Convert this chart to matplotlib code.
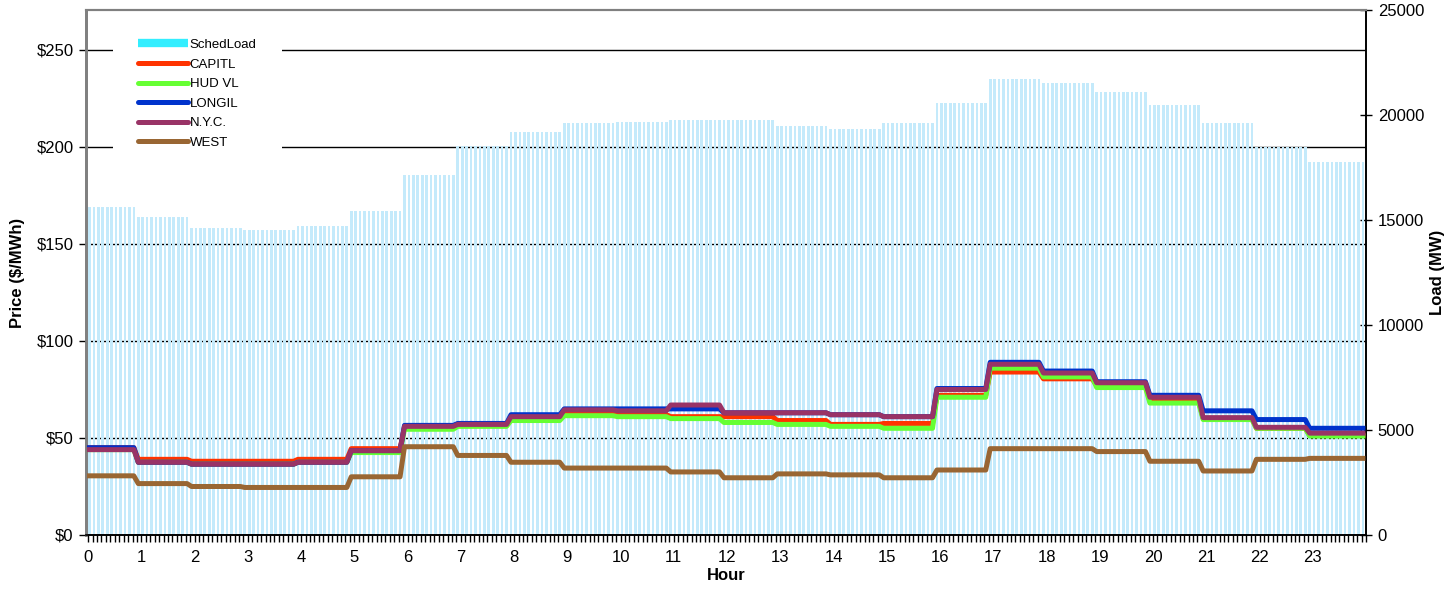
import numpy as np
import matplotlib
matplotlib.use("Agg")
import matplotlib.pyplot as plt
from matplotlib.lines import Line2D
from matplotlib.ticker import MultipleLocator, FuncFormatter

plt.rcParams['font.family'] = ['Liberation Sans', 'DejaVu Sans']

# hourly values (0..23); each hour is shown as 12 five-minute intervals
hours = list(range(24))
sched_load = [15600, 15150, 14620, 14520, 14710, 15430, 17140, 18520, 19190, 19620,
              19670, 19760, 19760, 19480, 19330, 19620, 20570, 21710, 21520, 21100,
              20480, 19620, 18480, 17760]
capitl = [45, 39, 38, 38, 39, 44.5, 55.5, 56.5, 60, 63, 62, 61, 61, 59, 57, 57.5,
          72, 84, 80.5, 77, 69, 60, 55, 51.5]
hud_vl = [44, 37.5, 36.5, 36.5, 37.5, 42.5, 54.5, 56, 59, 61.5, 61, 60, 58, 57, 56, 55,
          71, 86, 81.5, 76, 68, 59.5, 55, 51]
longil = [45, 37.5, 36.5, 36.5, 37.5, 43.5, 56.5, 57.5, 62, 65, 65, 65, 63, 63, 62, 61,
          75.5, 89, 84.5, 79, 72, 64, 59.5, 55]
nyc = [44, 37.5, 36.5, 36.5, 37.5, 43.5, 56, 57, 61, 64.5, 64, 67, 63, 63, 62, 61,
       75, 88, 83.5, 78.5, 71, 60.5, 55.5, 52.5]
west = [30.5, 26.5, 25, 24.5, 24.5, 30, 45.5, 41, 37.5, 34.5, 34.5, 32.5, 29.5, 31.5, 31,
        29.5, 33.5, 44.5, 44.5, 43, 38, 33, 39, 39.5]

series = [("CAPITL", capitl, "#ff3300"),
          ("HUD VL", hud_vl, "#66ff33"),
          ("LONGIL", longil, "#0033cc"),
          ("N.Y.C.", nyc, "#993366"),
          ("WEST", west, "#996633")]

steps = 12
idx = np.arange(24 * steps)
x = idx / steps
# intervals are labelled by their end time, so the hour changes one interval early
hour_of = np.minimum((idx + 1) // steps, 23)


def expand(vals):
    return np.asarray(vals, dtype=float)[hour_of]


fig = plt.figure(figsize=(14.56, 5.95), dpi=100)
ax_load = fig.add_axes([86 / 1456, 60 / 595, 1280 / 1456, 525 / 595])
ax_price = ax_load.twinx()

# load bars (right axis)
ax_load.bar(x, expand(sched_load), width=0.05, align='edge', color='#c4eafb',
            linewidth=0, zorder=2)
ax_load.set_ylim(0, 25000)
ax_load.set_xlim(-0.04, 24.0)
ax_load.yaxis.set_major_locator(MultipleLocator(5000))
ax_load.yaxis.tick_right()
ax_load.yaxis.set_label_position('right')
ax_load.set_ylabel("Load (MW)", fontsize=12, fontweight='bold', labelpad=4)
ax_load.tick_params(axis='y', direction='inout', length=9, width=1, labelsize=12, pad=4)

# price gridlines, behind the bars
price_ticks = [0, 50, 100, 150, 200, 250]
for v in price_ticks[1:]:
    ax_load.plot([0, 1], [v, v], transform=ax_price.get_yaxis_transform(),
                 color='black', lw=1.0, zorder=1)

# price lines (left axis), points at the bar centres
for name, vals, col in series:
    ax_price.plot(x + 0.025, expand(vals), color=col, lw=3.6,
                  solid_joinstyle='round', zorder=3)

ax_price.set_ylim(0, 270.6)
ax_price.set_yticks(price_ticks)
ax_price.yaxis.set_major_formatter(FuncFormatter(lambda v, p: f"${v:.0f}"))
ax_price.yaxis.tick_left()
ax_price.yaxis.set_label_position('left')
ax_price.set_ylabel("Price ($/MWh)", fontsize=12, fontweight='bold', labelpad=8)
ax_price.tick_params(axis='y', direction='out', length=5, width=1, labelsize=12, pad=4)

# x axis
ax_price.set_xlim(-0.04, 24.0)
ax_load.set_xticks(hours)
ax_load.set_xticklabels([str(h) for h in hours])
ax_load.xaxis.set_minor_locator(MultipleLocator(1 / steps))
ax_load.tick_params(axis='x', which='both', direction='out', length=5, width=1,
                    labelsize=12, pad=6)
ax_load.set_xlabel("Hour", fontsize=12, fontweight='bold', labelpad=2)

for a in (ax_load, ax_price):
    a.spines['left'].set_color('#808080')
    a.spines['left'].set_linewidth(2)
    a.spines['top'].set_color('#808080')
    a.spines['top'].set_linewidth(1.5)
    a.spines['right'].set_color('black')
    a.spines['right'].set_linewidth(1.2)
    a.spines['bottom'].set_color('black')
    a.spines['bottom'].set_linewidth(1.2)

handles = [Line2D([0], [0], color='#33eeff', lw=6, solid_capstyle='butt')]
handles += [Line2D([0], [0], color=c, lw=3.6, solid_capstyle='round') for _, _, c in series]
labels = ["SchedLoad"] + [n for n, _, _ in series]
leg = ax_price.legend(handles, labels, loc='upper left',
                      bbox_to_anchor=(106 / 1456, 1 - 7 / 595),
                      bbox_transform=fig.transFigure, fontsize=9.5,
                      frameon=True, facecolor='white', edgecolor='none', framealpha=1,
                      fancybox=False, borderpad=1.9, handlelength=3.8,
                      handletextpad=0.15, labelspacing=0.56)
leg.set_zorder(5)

fig.savefig("out.png", dpi=100)
